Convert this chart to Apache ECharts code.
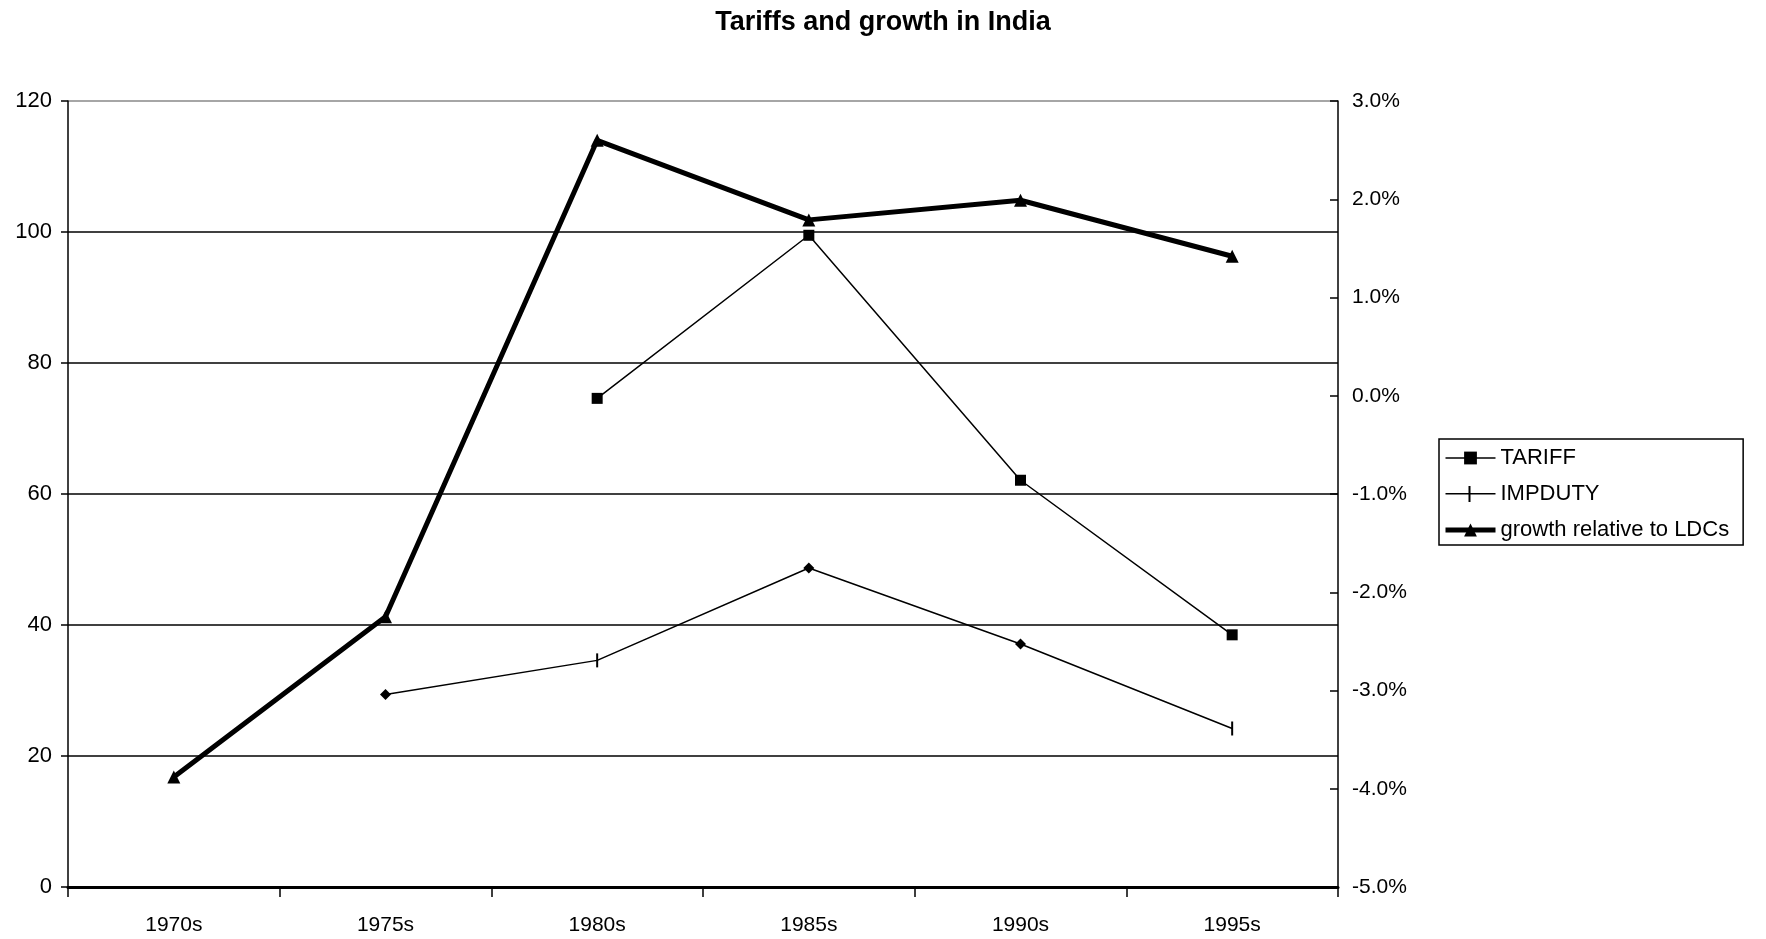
<!DOCTYPE html>
<html>
<head>
<meta charset="utf-8">
<title>Tariffs and growth in India</title>
<script src="https://cdn.jsdelivr.net/npm/echarts@6/dist/echarts.min.js"></script>
<style>
  html, body { margin: 0; padding: 0; background: #fff; }
  #chart { width: 1766px; height: 939px; }
</style>
</head>
<body>
<div id="chart"></div>
<script>
// data
const periods = ['1970s', '1975s', '1980s', '1985s', '1990s', '1995s']
const tariff = [null, null, 74.6, 99.5, 62.1, 38.5]
const impduty = [null, 29.4, 34.6, 48.7, 37.1, 24.2]
const growthPct = [-3.88, -2.25, 2.6, 1.79, 1.99, 1.42]   // growth relative to LDCs, %

const chart = echarts.init(document.getElementById('chart'))
const font = 'Liberation Sans, Arial, sans-serif'

// IMPDUTY uses diamonds at some points and a bar at others
const impBarIdx = [2, 5]

const option = {
  animation: false,
  textStyle: { fontFamily: font, color: '#000' },
  title: {
    text: 'Tariffs and growth in India',
    left: 'center',
    top: 4,
    textStyle: { fontFamily: font, fontSize: 27, fontWeight: 'bold', color: '#000' }
  },
  grid: { left: 68, right: 428, top: 101, bottom: 52 },
  legend: {
    orient: 'vertical',
    left: 1439,
    top: 439,
    itemWidth: 50,
    itemHeight: 16,
    itemGap: 14,
    padding: [8, 14, 4, 4],
    borderColor: '#000',
    borderWidth: 1.5,
    borderRadius: 0,
    textStyle: { fontFamily: font, fontSize: 22, color: '#000' },
    lineStyle: { width: 1.5 },
    data: [
      { name: 'TARIFF' },
      { name: 'IMPDUTY', icon: 'path://M0,7 L23,7 L23,0 L25,0 L25,7 L50,7 L50,8.5 L25,8.5 L25,16 L23,16 L23,8.5 L0,8.5 Z' },
      { name: 'growth relative to LDCs', lineStyle: { width: 5 } }
    ]
  },
  xAxis: {
    type: 'category',
    data: periods,
    boundaryGap: true,
    axisLine: { lineStyle: { color: '#000', width: 3 } },
    axisTick: { show: true, length: 10, lineStyle: { color: '#000', width: 1.5 } },
    axisLabel: { fontFamily: font, fontSize: 21, color: '#000', margin: 28 }
  },
  yAxis: [
    {
      type: 'value',
      min: 0,
      max: 120,
      interval: 20,
      axisLine: { show: true, lineStyle: { color: '#000', width: 1.5 } },
      axisTick: { show: true, length: 7, lineStyle: { color: '#000', width: 1.5 } },
      axisLabel: { fontFamily: font, fontSize: 22, color: '#000', margin: 16 },
      splitLine: {
        show: true,
        lineStyle: { color: ['#000', '#000', '#000', '#000', '#000', '#000', '#888'], width: 1.5 }
      }
    },
    {
      type: 'value',
      min: -5,
      max: 3,
      interval: 1,
      position: 'right',
      axisLine: { show: true, lineStyle: { color: '#000', width: 1.5 } },
      axisTick: { show: true, inside: true, length: 8, lineStyle: { color: '#000', width: 1.5 } },
      axisLabel: {
        fontFamily: font, fontSize: 21, color: '#000', margin: 14,
        formatter: v => v.toFixed(1) + '%'
      },
      splitLine: { show: false }
    }
  ],
  series: [
    {
      name: 'TARIFF',
      type: 'line',
      data: tariff,
      yAxisIndex: 0,
      symbol: 'rect',
      symbolSize: 11,
      showAllSymbol: true,
      itemStyle: { color: '#000' },
      lineStyle: { color: '#000', width: 1.5 },
      z: 3
    },
    {
      name: 'IMPDUTY',
      type: 'line',
      data: impduty,
      yAxisIndex: 0,
      symbol: (v, p) => impBarIdx.includes(p.dataIndex) ? 'rect' : 'diamond',
      symbolSize: (v, p) => impBarIdx.includes(p.dataIndex) ? [2, 14] : 11,
      showAllSymbol: true,
      itemStyle: { color: '#000' },
      lineStyle: { color: '#000', width: 1.5 },
      z: 3
    },
    {
      name: 'growth relative to LDCs',
      type: 'line',
      data: growthPct,
      yAxisIndex: 1,
      symbol: 'triangle',
      symbolSize: 13,
      showAllSymbol: true,
      itemStyle: { color: '#000' },
      lineStyle: { color: '#000', width: 5 },
      z: 4
    }
  ]
}

chart.setOption(option)
</script>
</body>
</html>
